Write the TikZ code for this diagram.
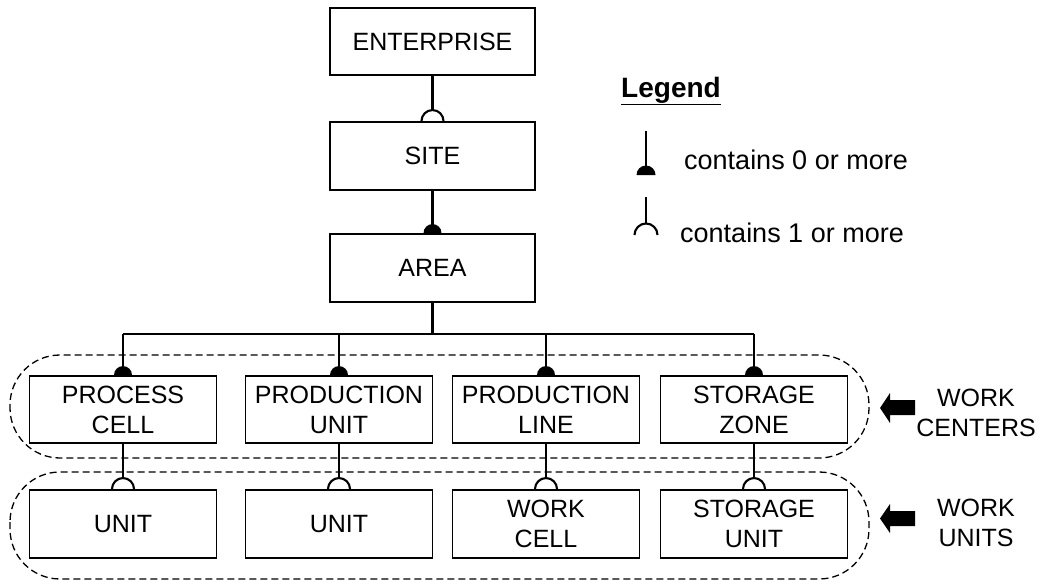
\documentclass[tikz,border=0pt]{standalone}
\usepackage{fontspec}
\setmainfont{Liberation Sans}
\begin{document}
\begin{tikzpicture}[x=1pt,y=-1pt,
  box/.style={draw, line width=1.9pt, minimum width=187pt, minimum height=67pt, align=center, inner sep=0pt, font=\fontsize{25}{30}\selectfont},
  topbox/.style={box, minimum width=205pt},
  conn/.style={line width=2.1pt},
  bus/.style={line width=1.6pt},
  group/.style={draw, dash pattern=on 7pt off 4pt, line width=1.3pt, rounded corners=50pt},
  side/.style={align=center, font=\fontsize{25}{30}\selectfont},
  legtext/.style={anchor=west, inner sep=0pt, font=\fontsize{27}{32}\selectfont},
  blockarrow/.style={fill=black}
]
\useasboundingbox (0,0) rectangle (1044,581);

% group outlines
\draw[group] (10,355) rectangle (869,458);
\draw[group] (10,472) rectangle (869,579);

% boxes
\node[topbox] (ent) at (432.5,41.5) {ENTERPRISE};
\node[topbox, minimum height=68pt] (site) at (432.5,156) {SITE};
\node[topbox, minimum height=68pt] (area) at (432.5,268) {AREA};

\node[box] (pc) at (123,409.5) {PROCESS\\CELL};
\node[box] (pu) at (339,409.5) {PRODUCTION\\UNIT};
\node[box] (pl) at (546,409.5) {PRODUCTION\\LINE};
\node[box] (sz) at (754,409.5) {STORAGE\\ZONE};

\node[box, minimum height=68pt] (u1) at (123,524) {UNIT};
\node[box, minimum height=68pt] (u2) at (339,524) {UNIT};
\node[box, minimum height=68pt] (wc) at (546,524) {WORK\\CELL};
\node[box, minimum height=68pt] (su) at (754,524) {STORAGE\\UNIT};

% connectors: contains 1 or more (open)
\draw[conn] (ent.south) -- ([yshift=11pt]site.north);
\draw[conn] ([xshift=-11pt]site.north) arc[start angle=180, end angle=0, radius=11pt];

% contains 0 or more (filled)
\draw[conn] (site.south) -- (area.north);
\fill ([xshift=-9pt]area.north) arc[start angle=180, end angle=0, radius=9pt] -- cycle;

% bus
\coordinate (bus) at (432.5,334);
\draw[conn] (area.south) -- (bus);
\draw[bus] (pc.north |- bus) -- (sz.north |- bus);
\foreach \n in {pc,pu,pl,sz}{
  \draw[conn] (\n.north |- bus) -- (\n.north);
  \fill ([xshift=-9pt]\n.north) arc[start angle=180, end angle=0, radius=9pt] -- cycle;
}

% lower level
\foreach \a/\b in {pc/u1,pu/u2,pl/wc,sz/su}{
  \draw[conn] (\a.south) -- ([yshift=11pt]\b.north);
  \draw[conn] ([xshift=-11pt]\b.north) arc[start angle=180, end angle=0, radius=11pt];
}

% legend
\node[inner sep=0pt, font=\fontsize{28}{32}\selectfont\bfseries] (leg) at (671,91) {\underline{Legend}};
\coordinate (l1top) at (646,131);
\coordinate (l1) at (646,175);
\draw[conn] (l1top) -- (l1);
\fill ([xshift=-9.5pt]l1) arc[start angle=180, end angle=0, radius=9.5pt] -- cycle;
\node[legtext] (t1) at (684,160) {contains 0 or more};

\coordinate (l2top) at (646,197);
\coordinate (l2) at (646,235);
\draw[conn] (l2top) -- ([yshift=11.5pt]l2);
\draw[conn] ([xshift=-11.5pt]l2) arc[start angle=180, end angle=0, radius=11.5pt];
\node[legtext] (t2) at (680,233) {contains 1 or more};

% side labels and arrows
\node[side] (wcen) at (976,413) {WORK\\CENTERS};
\node[side] (wun) at (976,522.5) {WORK\\UNITS};
\fill[blockarrow] (880,408) -- (890,393) -- (890,400) -- (915,400) -- (915,415) -- (890,415) -- (890,423) -- cycle;
\fill[blockarrow] (880,518.5) -- (890,504) -- (890,511) -- (915,511) -- (915,526) -- (890,526) -- (890,533) -- cycle;
\end{tikzpicture}
\end{document}
